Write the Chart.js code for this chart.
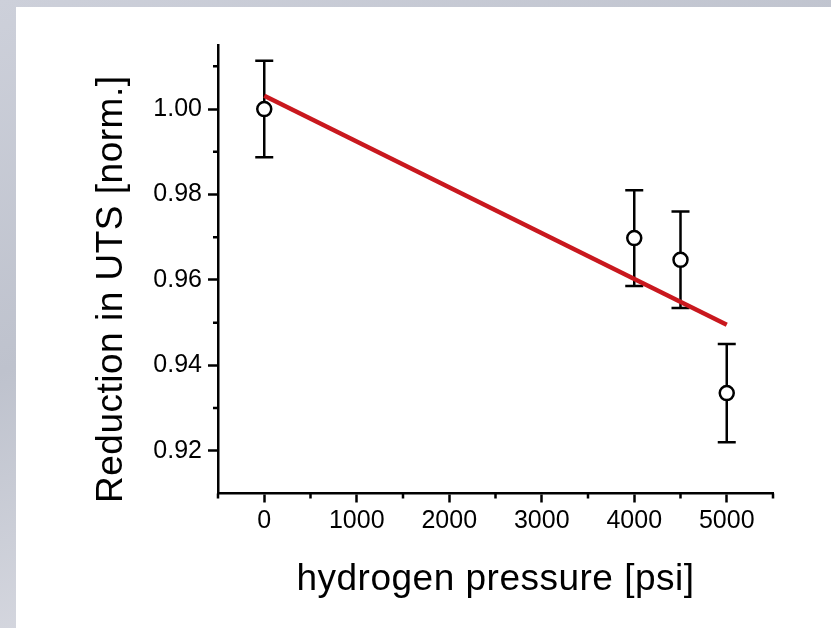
<!DOCTYPE html>
<html>
<head>
<meta charset="utf-8">
<script src="https://cdn.jsdelivr.net/npm/chart.js@4"></script>
<style>
  html, body { margin: 0; padding: 0; }
  body {
    width: 831px; height: 628px; overflow: hidden; position: relative;
    background: linear-gradient(160deg, #cdd0da 0%, #bec2cd 40%, #d5d7df 70%, #c4c8d2 100%);
  }
  #panel { position: absolute; left: 16px; top: 7px; right: 0; bottom: 0; background: #fff; }
  #chart { position: absolute; left: 0; top: 0; }
</style>
</head>
<body>
<div id="panel"></div>
<canvas id="chart" width="831" height="628"></canvas>
<script>
// measured points (hydrogen pressure vs normalised UTS)
const pressure = [0, 4000, 4500, 5000];
const uts = [1.000, 0.9698, 0.9647, 0.9335];
const utsErr = [0.0113, 0.0112, 0.0113, 0.0115];

// linear fit at both ends
const fitPressure = [0, 5000];
const fitUts = [1.0031, 0.9495];

// axis ticks
const xTicks = [0, 1000, 2000, 3000, 4000, 5000];
const xMinorTicks = [-500, 500, 1500, 2500, 3500, 4500, 5500];
const yTicks = [0.92, 0.94, 0.96, 0.98, 1.00];
const yMinorTicks = [0.93, 0.95, 0.97, 0.99, 1.01];

const xTitle = 'hydrogen pressure [psi]';
const yTitle = 'Reduction in UTS [norm.]';

const FONT = '"Liberation Sans", Arial, sans-serif';
Chart.defaults.font.family = FONT;
Chart.defaults.color = '#000';

const errorBars = {
  id: 'errorBars',
  beforeDatasetsDraw(chart) {
    const {ctx, scales: {x, y}} = chart;
    ctx.save();
    ctx.strokeStyle = '#000';
    ctx.lineWidth = 2.5;
    pressure.forEach((p, i) => {
      const px = x.getPixelForValue(p);
      const top = y.getPixelForValue(uts[i] + utsErr[i]);
      const bot = y.getPixelForValue(uts[i] - utsErr[i]);
      ctx.beginPath();
      ctx.moveTo(px, top); ctx.lineTo(px, bot);
      ctx.moveTo(px - 9, top); ctx.lineTo(px + 9, top);
      ctx.moveTo(px - 9, bot); ctx.lineTo(px + 9, bot);
      ctx.stroke();
    });
    ctx.restore();
  }
};

const minorTicks = {
  id: 'minorTicks',
  afterDraw(chart) {
    const {ctx, chartArea, scales: {x, y}} = chart;
    ctx.save();
    ctx.strokeStyle = '#000';
    ctx.lineWidth = 2.5;
    ctx.beginPath();
    xMinorTicks.forEach(v => {
      const px = x.getPixelForValue(v);
      ctx.moveTo(px, chartArea.bottom);
      ctx.lineTo(px, chartArea.bottom + 5);
    });
    yMinorTicks.forEach(v => {
      const py = y.getPixelForValue(v);
      ctx.moveTo(chartArea.left - 5, py);
      ctx.lineTo(chartArea.left, py);
    });
    ctx.stroke();
    ctx.restore();
  }
};

const axisTitles = {
  id: 'axisTitles',
  afterDraw(chart) {
    const {ctx, chartArea} = chart;
    ctx.save();
    ctx.fillStyle = '#000';
    ctx.font = '37px ' + FONT;
    ctx.letterSpacing = '0.5px';
    ctx.textAlign = 'center';
    ctx.textBaseline = 'alphabetic';
    ctx.fillText(xTitle, (chartArea.left + chartArea.right) / 2, 590);
    ctx.translate(122, (chartArea.top + chartArea.bottom) / 2 + 20);
    ctx.rotate(-Math.PI / 2);
    ctx.fillText(yTitle, 0, 0);
    ctx.restore();
  }
};

new Chart(document.getElementById('chart'), {
  type: 'scatter',
  data: {
    datasets: [{
      label: 'UTS',
      data: pressure.map((p, i) => ({x: p, y: uts[i]})),
      pointRadius: 7,
      pointHoverRadius: 7,
      pointBorderWidth: 2.5,
      pointBackgroundColor: '#fff',
      pointBorderColor: '#000',
      order: 0
    }, {
      label: 'fit',
      type: 'line',
      data: fitPressure.map((p, i) => ({x: p, y: fitUts[i]})),
      borderColor: '#c9181e',
      borderWidth: 4.5,
      pointRadius: 0,
      fill: false,
      order: 1
    }]
  },
  options: {
    responsive: false,
    animation: false,
    layout: { padding: { left: 0, top: 45, right: 58, bottom: 0 } },
    plugins: { legend: { display: false }, tooltip: { enabled: false } },
    scales: {
      x: {
        type: 'linear',
        min: -500,
        max: 5500,
        afterBuildTicks: s => { s.ticks = xTicks.map(v => ({value: v})); },
        afterFit: s => { s.height = 134.5; },
        border: { display: true, color: '#000', width: 2.5 },
        grid: { drawOnChartArea: false, drawTicks: true, tickLength: 9, tickWidth: 2.5, tickColor: '#000' },
        ticks: { font: { size: 25 }, padding: 4, maxRotation: 0, callback: v => String(v) },
        title: { display: false }
      },
      y: {
        type: 'linear',
        min: 0.91,
        max: 1.015,
        afterBuildTicks: s => { s.ticks = yTicks.map(v => ({value: v})); },
        afterFit: s => { s.width = 218; },
        border: { display: true, color: '#000', width: 2.5 },
        grid: { drawOnChartArea: false, drawTicks: true, tickLength: 10, tickWidth: 2.5, tickColor: '#000' },
        ticks: { font: { size: 25 }, padding: 6, callback: v => v.toFixed(2) },
        title: { display: false }
      }
    }
  },
  plugins: [errorBars, minorTicks, axisTitles]
});
</script>
</body>
</html>
